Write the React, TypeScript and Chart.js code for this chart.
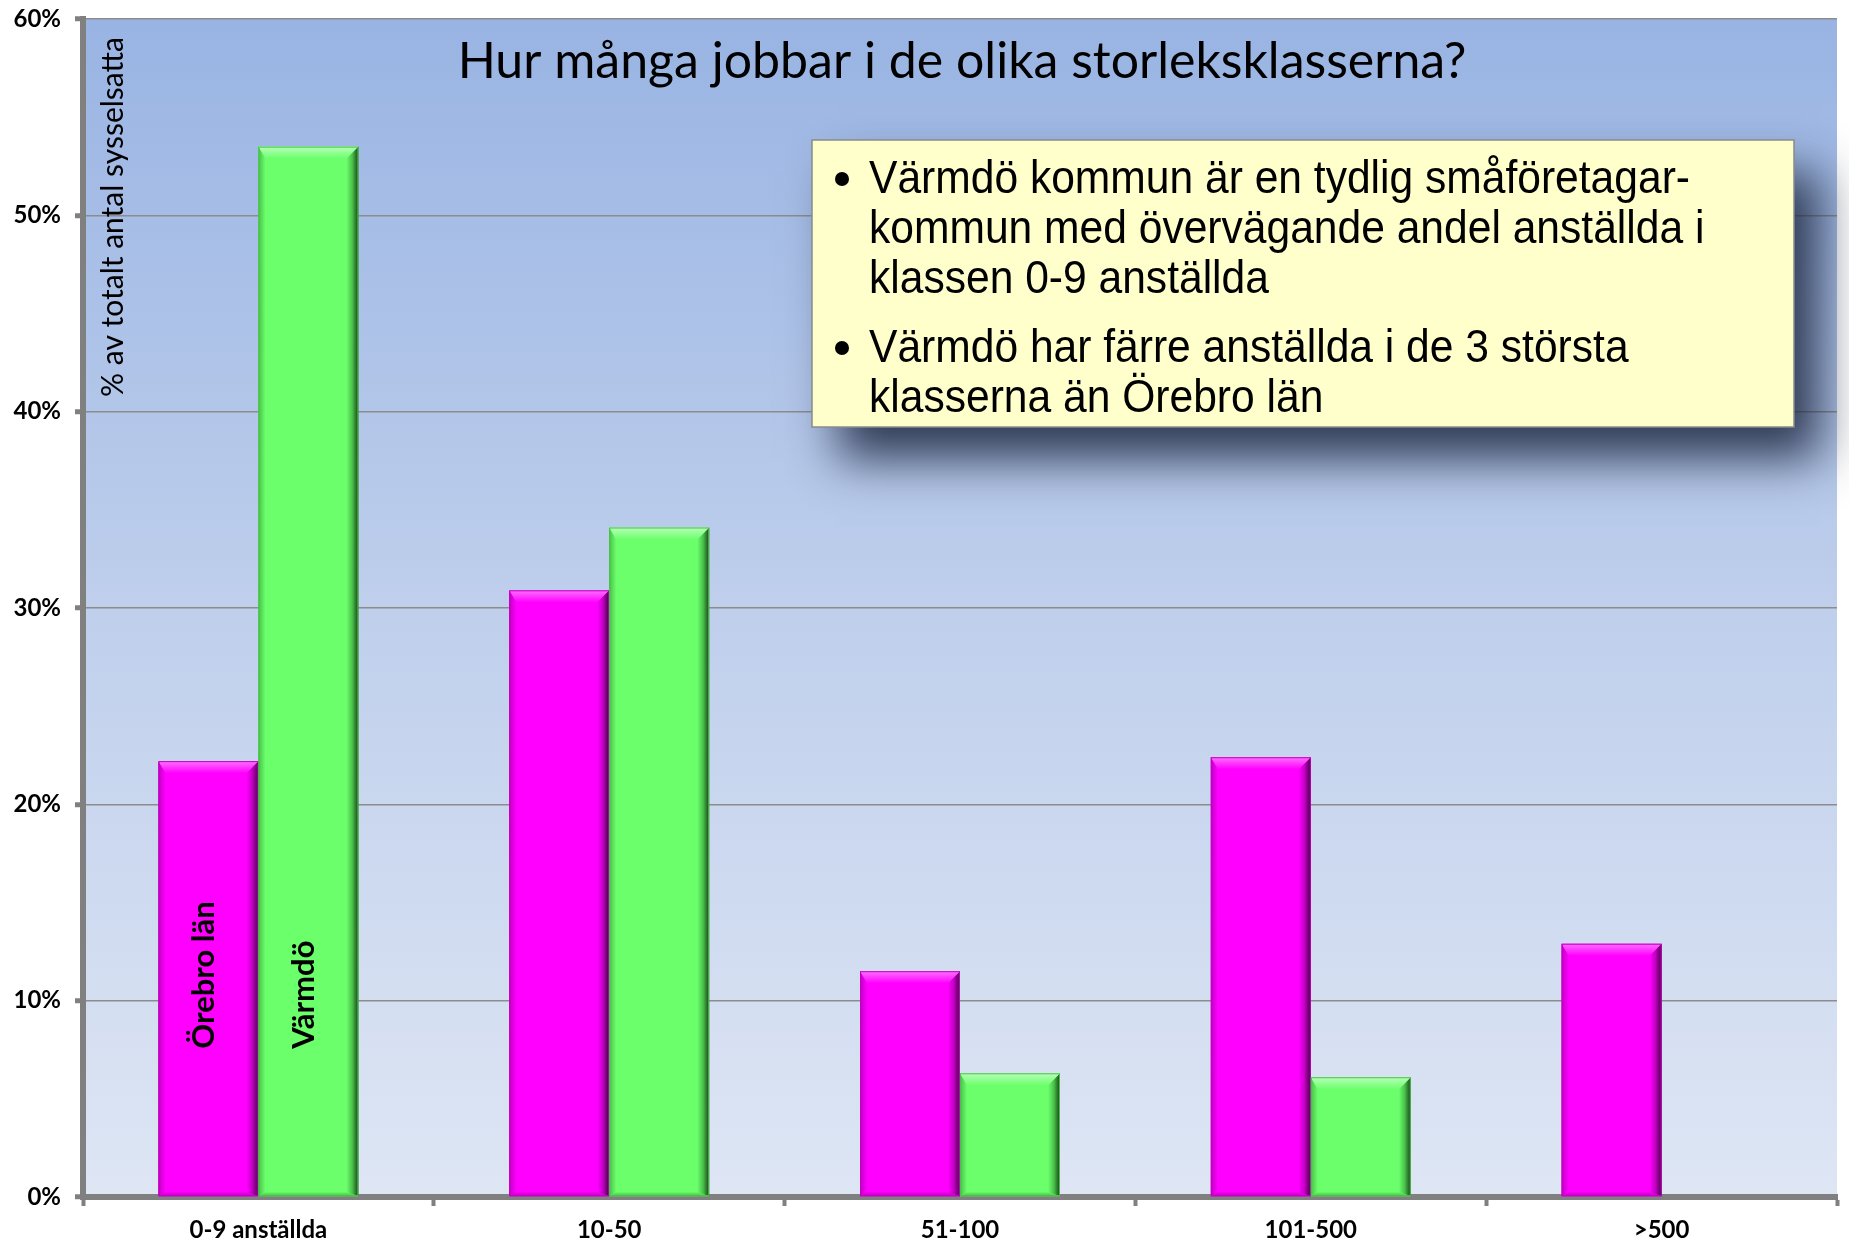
import React, { useEffect, useRef } from "react";
import { Chart, registerables } from "chart.js";

Chart.register(...registerables);

const categories = ["0-9 anställda", "10-50", "51-100", "101-500", ">500"];
const seriesNames = ["Örebro län", "Värmdö"];
const orebroValues = [22.2, 30.9, 11.5, 22.4, 12.9];
const varmdoValues = [53.5, 34.1, 6.3, 6.1, 0];
const yMin = 0;
const yMax = 60;
const yStep = 10;
const chartTitle = "Hur många jobbar i de olika storleksklasserna?";
const yAxisTitle = "% av totalt antal sysselsatta";
const noteBullets = [
  ["Värmdö kommun är en tydlig småföretagar-", "kommun med övervägande andel anställda i", "klassen 0-9 anställda"],
  ["Värmdö har färre anställda i de 3 största", "klasserna än Örebro län"],
];

const W = 1849;
const H = 1244;

const seriesStyles = [
  { base: "#FF00FF", light: "#FF70FF", mid: "#C000C0", dark: "#400040" },
  { base: "#6CFF6C", light: "#B8FFB8", mid: "#48C048", dark: "#1A401A" },
];

const CAL = "Lato, 'Open Sans', 'Noto Sans', sans-serif";
const ARIAL = "'Liberation Sans', Arial, sans-serif";

const bgPlugin = {
  id: "bgGradient",
  beforeDraw(chart: any) {
    const { ctx, chartArea: a } = chart;
    const g = ctx.createLinearGradient(0, a.top, 0, a.bottom);
    g.addColorStop(0, "#99B4E3");
    g.addColorStop(0.5, "#BFCFEC");
    g.addColorStop(1, "#DEE6F4");
    ctx.save();
    ctx.fillStyle = g;
    ctx.fillRect(a.left, a.top, a.right - a.left, a.bottom - a.top);
    ctx.restore();
  },
};

const bevelPlugin = {
  id: "bevel",
  afterDatasetsDraw(chart: any) {
    const ctx = chart.ctx;
    chart.data.datasets.forEach((_ds: any, di: number) => {
      const meta = chart.getDatasetMeta(di);
      const st = seriesStyles[di];
      meta.data.forEach((el: any) => {
        const { x, y, base, width } = el.getProps(["x", "y", "base", "width"], true);
        const h = base - y;
        if (h <= 1) return;
        const l = x - width / 2;
        const r = x + width / 2;
        const b = Math.min(12, h / 2, width / 4);
        ctx.save();
        // right edge
        let g = ctx.createLinearGradient(r - b, 0, r, 0);
        g.addColorStop(0, st.base);
        g.addColorStop(0.5, st.mid);
        g.addColorStop(1, st.dark);
        ctx.fillStyle = g;
        ctx.beginPath();
        ctx.moveTo(r, y);
        ctx.lineTo(r, base);
        ctx.lineTo(r - b, base - 4);
        ctx.lineTo(r - b, y + b);
        ctx.closePath();
        ctx.fill();
        // left edge
        g = ctx.createLinearGradient(l, 0, l + b * 0.6, 0);
        g.addColorStop(0, st.mid);
        g.addColorStop(1, st.base);
        ctx.fillStyle = g;
        ctx.beginPath();
        ctx.moveTo(l, y);
        ctx.lineTo(l + b * 0.6, y + b);
        ctx.lineTo(l + b * 0.6, base - 4);
        ctx.lineTo(l, base);
        ctx.closePath();
        ctx.fill();
        // bottom edge
        g = ctx.createLinearGradient(0, base - 5, 0, base);
        g.addColorStop(0, st.base);
        g.addColorStop(1, st.mid);
        ctx.fillStyle = g;
        ctx.beginPath();
        ctx.moveTo(l, base);
        ctx.lineTo(r, base);
        ctx.lineTo(r - b, base - 4);
        ctx.lineTo(l + b * 0.6, base - 4);
        ctx.closePath();
        ctx.fill();
        // top bevel
        g = ctx.createLinearGradient(0, y, 0, y + b);
        g.addColorStop(0, st.light);
        g.addColorStop(1, st.base);
        ctx.fillStyle = g;
        ctx.beginPath();
        ctx.moveTo(l, y);
        ctx.lineTo(r, y);
        ctx.lineTo(r - b, y + b);
        ctx.lineTo(l + b * 0.6, y + b);
        ctx.closePath();
        ctx.fill();
        ctx.strokeStyle = st.mid;
        ctx.lineWidth = 1;
        ctx.strokeRect(l + 0.5, y + 0.5, width - 1, h - 1);
        ctx.restore();
      });
    });
  },
};

const labelPlugin = {
  id: "barNames",
  afterDatasetsDraw(chart: any) {
    const ctx = chart.ctx;
    const yScale = chart.scales.y;
    const anchorY = yScale.getPixelForValue(7.55);
    seriesNames.forEach((name, di) => {
      const el: any = chart.getDatasetMeta(di).data[0];
      if (!el) return;
      const { x } = el.getProps(["x"], true);
      ctx.save();
      ctx.translate(x - 4, anchorY);
      ctx.rotate(-Math.PI / 2);
      ctx.font = `bold 31px ${CAL}`;
      ctx.fillStyle = "#000";
      ctx.textAlign = "left";
      ctx.textBaseline = "middle";
      ctx.fillText(name, 0, 0);
      ctx.restore();
    });
  },
};

const overlayPlugin = {
  id: "overlay",
  afterDraw(chart: any) {
    const { ctx } = chart;
    ctx.save();
    // title
    ctx.font = `50px ${CAL}`;
    ctx.fillStyle = "#000";
    ctx.textAlign = "center";
    ctx.textBaseline = "alphabetic";
    ctx.fillText(chartTitle, 962, 78);

    // y axis title
    ctx.save();
    ctx.translate(113, 217);
    ctx.rotate(-Math.PI / 2);
    ctx.font = `30px ${CAL}`;
    ctx.textAlign = "center";
    ctx.textBaseline = "middle";
    ctx.fillText(yAxisTitle, 0, 0);
    ctx.restore();

    // note box
    const bx = 812, by = 140, bw = 982, bh = 287;
    ctx.save();
    ctx.shadowColor = "rgba(25,35,60,0.85)";
    ctx.shadowBlur = 45;
    ctx.shadowOffsetX = 26;
    ctx.shadowOffsetY = 32;
    ctx.fillStyle = "#FFFFCC";
    ctx.fillRect(bx, by, bw, bh);
    ctx.restore();
    ctx.fillStyle = "#FFFFCC";
    ctx.fillRect(bx, by, bw, bh);
    ctx.strokeStyle = "#8a8a8a";
    ctx.lineWidth = 1.5;
    ctx.strokeRect(bx, by, bw, bh);

    ctx.fillStyle = "#000";
    ctx.textAlign = "left";
    ctx.textBaseline = "alphabetic";
    ctx.font = `46px ${ARIAL}`;
    const targetW = 821;
    const measured = ctx.measureText(noteBullets[0][0]).width || targetW;
    const sx = targetW / measured;
    let yy = 193;
    noteBullets.forEach((lines) => {
      ctx.beginPath();
      ctx.arc(842, yy - 14, 7, 0, Math.PI * 2);
      ctx.fill();
      lines.forEach((ln) => {
        ctx.save();
        ctx.translate(869, yy);
        ctx.scale(sx, 1);
        ctx.fillText(ln, 0, 0);
        ctx.restore();
        yy += 50;
      });
      yy += 19;
    });
    ctx.restore();
  },
};

export default function App() {
  const ref = useRef<HTMLCanvasElement | null>(null);
  useEffect(() => {
    document.body.style.margin = "0";
    const canvas = ref.current;
    if (!canvas) return;
    const chart = new Chart(canvas, {
      type: "bar",
      data: {
        labels: categories,
        datasets: [
          {
            label: seriesNames[0],
            data: orebroValues,
            backgroundColor: seriesStyles[0].base,
            borderWidth: 0,
            categoryPercentage: 0.57,
            barPercentage: 1,
          },
          {
            label: seriesNames[1],
            data: varmdoValues,
            backgroundColor: seriesStyles[1].base,
            borderWidth: 0,
            categoryPercentage: 0.57,
            barPercentage: 1,
          },
        ],
      },
      options: {
        responsive: false,
        animation: false,
        devicePixelRatio: 1,
        layout: { padding: { top: 19, right: 12, left: 0, bottom: 0 } },
        plugins: {
          legend: { display: false },
          tooltip: { enabled: false },
          title: { display: false },
        },
        scales: {
          x: {
            grid: {
              display: true,
              drawOnChartArea: false,
              offset: true,
              tickLength: 9,
              tickWidth: 4,
              tickColor: "#808080",
            },
            border: { display: true, color: "#808080", width: 6 },
            ticks: {
              color: "#000",
              font: { family: CAL, size: 24, weight: "bold" },
              padding: 10,
              maxRotation: 0,
            },
            afterFit(scale: any) {
              scale.height = 47;
              scale.paddingLeft = 0;
              scale.paddingRight = 0;
            },
          },
          y: {
            min: yMin,
            max: yMax,
            ticks: {
              stepSize: yStep,
              color: "#000",
              font: { family: CAL, size: 24, weight: "bold" },
              padding: 14,
              callback: (v: any) => `${v}%`,
            },
            grid: {
              color: "#8c8c8c",
              lineWidth: 1.5,
              tickLength: 8,
              tickWidth: 5,
              tickColor: "#808080",
            },
            border: { display: true, color: "#808080", width: 6 },
            afterFit(scale: any) {
              scale.width = 83;
              scale.paddingTop = 0;
              scale.paddingBottom = 0;
            },
          },
        },
      },
      plugins: [bgPlugin, bevelPlugin, labelPlugin, overlayPlugin],
    } as any);
    return () => chart.destroy();
  }, []);
  return (
    <div style={{ position: "fixed", left: 0, top: 0, width: W, height: H, background: "#fff" }}>
      <canvas ref={ref} width={W} height={H} style={{ width: W, height: H, display: "block" }} />
    </div>
  );
}
